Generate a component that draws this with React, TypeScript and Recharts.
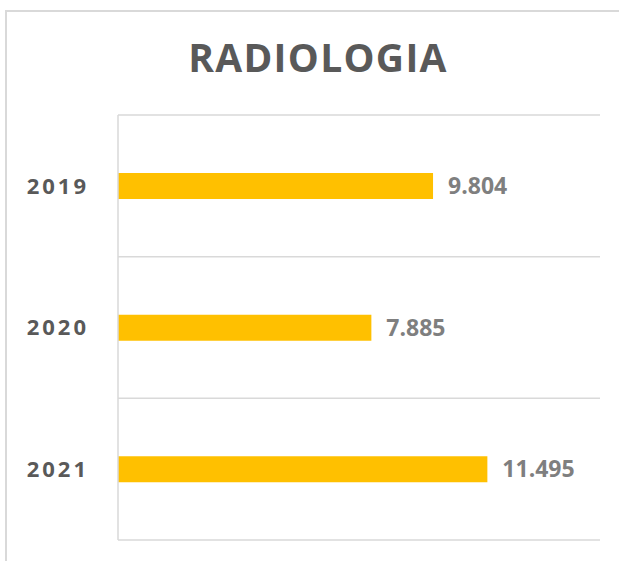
import React from "react";
import { BarChart, Bar, XAxis, YAxis, CartesianGrid, LabelList } from "recharts";

const years = ["2019", "2020", "2021"];
const values = [9804, 7885, 11495];
const title = "RADIOLOGIA";
const xDomain = [0, 15000];

const data = years.map((y, i) => ({ year: y, value: values[i] }));

const fmt = (v: number) => String(v).replace(/\B(?=(\d{3})+(?!\d))/g, ".");

const FONT = "'Open Sans', sans-serif";

export default function App() {
  return (
    <div style={{ position: "absolute", left: 0, top: 0, width: 619, height: 561, overflow: "hidden", background: "#fff" }}>
      <div
        style={{
          position: "absolute",
          left: 5,
          top: 10,
          width: 640,
          height: 580,
          borderLeft: "2px solid #d9d9d9",
          borderTop: "2px solid #d9d9d9",
        }}
      />
      <svg width={619} height={100} style={{ position: "absolute", left: 0, top: 0 }}>
        <text
          x={318}
          y={72}
          textAnchor="middle"
          fill="#595959"
          style={{ fontFamily: FONT, fontWeight: 700, fontSize: 39, letterSpacing: 1.3 }}
        >
          {title}
        </text>
      </svg>
      <div style={{ position: "absolute", left: 0, top: 0 }}>
        <BarChart
          width={619}
          height={561}
          data={data}
          layout="vertical"
          margin={{ top: 115, right: 19, bottom: 21, left: 8 }}
        >
          <CartesianGrid
            vertical={false}
            stroke="#d9d9d9"
            strokeWidth={1.5}
            horizontalCoordinatesGenerator={(props: any) => {
              const off = props.offset;
              return years.concat([""]).map((_, i) => off.top + (i * off.height) / years.length);
            }}
          />
          <XAxis type="number" domain={xDomain} hide />
          <YAxis
            type="category"
            dataKey="year"
            width={110}
            axisLine={{ stroke: "#d9d9d9", strokeWidth: 1.5 }}
            tickLine={false}
            tickMargin={23}
            tick={{ fill: "#595959", fontFamily: FONT, fontWeight: 700, fontSize: 22, letterSpacing: 3 }}
          />
          <Bar dataKey="value" fill="#FFC000" barSize={26} isAnimationActive={false}>
            <LabelList
              dataKey="value"
              position="right"
              offset={15}
              formatter={(v: any) => fmt(Number(v))}
              fill="#7f7f7f"
              style={{ fontFamily: FONT, fontWeight: 700, fontSize: 23 }}
            />
          </Bar>
        </BarChart>
      </div>
    </div>
  );
}
